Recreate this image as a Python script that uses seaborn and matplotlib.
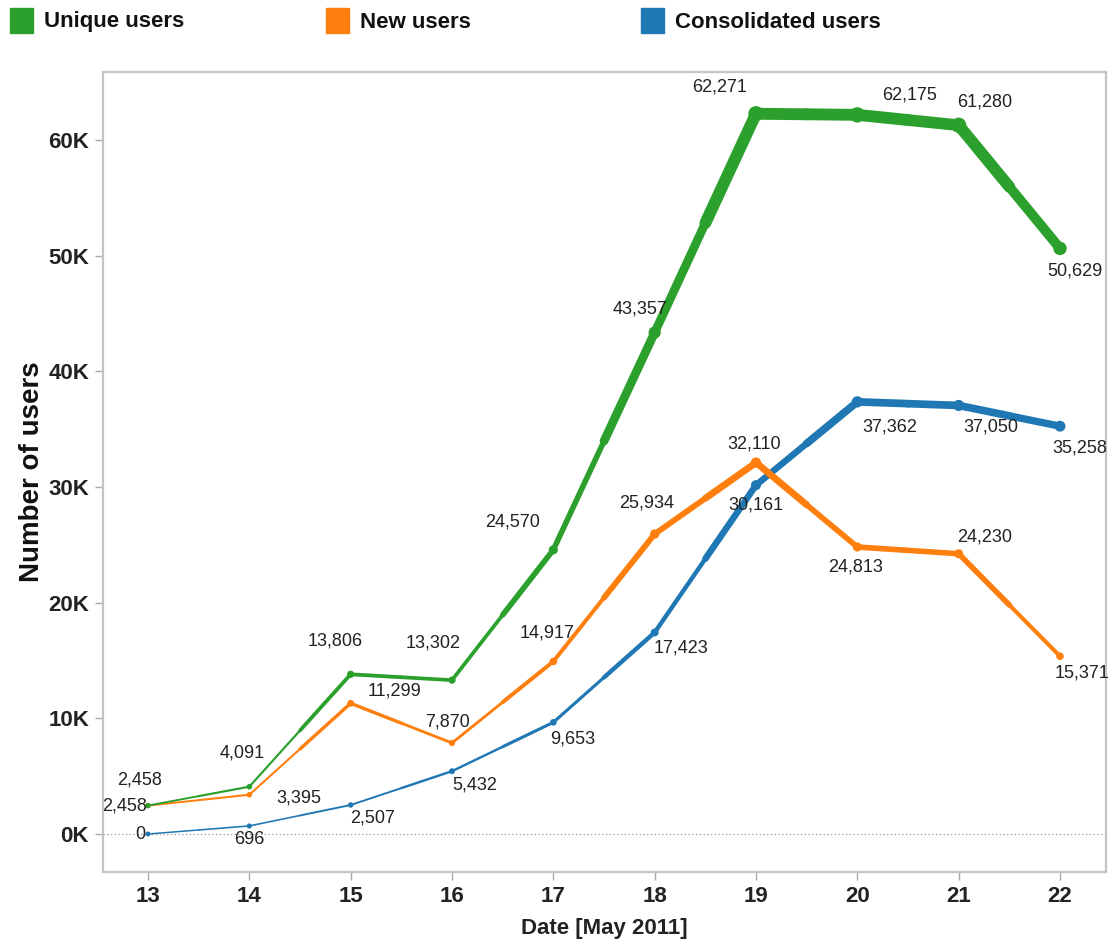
import numpy as np
import matplotlib
matplotlib.use("Agg")
import matplotlib.pyplot as plt
import matplotlib.patches as mpatches
import seaborn as sns

# data (May 2011)
days = [13, 14, 15, 16, 17, 18, 19, 20, 21, 22]
unique_users = [2458, 4091, 13806, 13302, 24570, 43357, 62271, 62175, 61280, 50629]
new_users = [2458, 3395, 11299, 7870, 14917, 25934, 32110, 24813, 24230, 15371]
consolidated_users = [0, 696, 2507, 5432, 9653, 17423, 30161, 37362, 37050, 35258]
series_names = ["Unique users", "New users", "Consolidated users"]
y_ticks = [0, 10000, 20000, 30000, 40000, 50000, 60000]

colors = ["#2ca02c", "#ff7f0e", "#1f77b4"]

# label offsets (pixels, dx right / dy up) and alignment per point
label_offsets = [
    [(-8, 26), (-7, 34), (-15, 33), (-19, 37), (-41, 28), (-15, 24), (-36, 27), (52, 20), (26, 23), (15, -23)],
    [(-1, 0, "right"), (50, -3), (44, 12), (-4, 21), (-6, 28), (-8, 31), (-2, 19), (-2, -20), (26, 17), (22, -17)],
    [(-3, 0, "right"), (0, -14), (22, -13), (23, -14), (19, -17), (26, -16), (0, -20), (32, -25), (32, -22), (20, -22)],
]

sns.set_style("white")
plt.rcParams["font.family"] = ["Liberation Sans", "DejaVu Sans"]

fig = plt.figure(figsize=(11.11, 9.44), dpi=100)
ax = fig.add_axes([103 / 1111, 72 / 944, 1003 / 1111, 800 / 944])

PX = 72 / 100  # points per pixel


def width_px(v):
    return 1.5 + v / 6000.0


all_series = [unique_users, new_users, consolidated_users]
x = np.array(days, dtype=float)

# draw bottom to top: consolidated, new, unique
for k in [2, 1, 0]:
    vals = np.array(all_series[k], dtype=float)
    col = colors[k]
    n = len(x)
    for i in range(n):
        xs, ys = [], []
        if i > 0:
            xs.append((x[i - 1] + x[i]) / 2)
            ys.append((vals[i - 1] + vals[i]) / 2)
        xs.append(x[i])
        ys.append(vals[i])
        if i < n - 1:
            xs.append((x[i] + x[i + 1]) / 2)
            ys.append((vals[i] + vals[i + 1]) / 2)
        ax.plot(xs, ys, color=col, lw=width_px(vals[i]) * PX,
                solid_capstyle="round", solid_joinstyle="round", zorder=2 + (2 - k))
    sizes = [((width_px(v) + 3.5) * PX) ** 2 for v in vals]
    sns.scatterplot(x=x, y=vals, s=sizes, color=col, edgecolor="none", ax=ax,
                    zorder=3 + (2 - k), legend=False)

# value labels
for k in range(3):
    for i, v in enumerate(all_series[k]):
        off = label_offsets[k][i]
        ha = off[2] if len(off) > 2 else "center"
        ax.annotate(f"{v:,}", (days[i], v), xytext=(off[0] * PX, off[1] * PX),
                    textcoords="offset points", ha=ha, va="center",
                    fontsize=13, color="#222222", zorder=10)

ax.axhline(0, color="#999999", ls=(0, (1, 2)), lw=0.9, zorder=1)

ax.set_xlim(12.556, 22.454)
ax.set_ylim(-3285, 65880)
ax.set_xticks(days)
ax.set_xticklabels([str(d) for d in days])
ax.set_yticks(y_ticks)
ax.set_yticklabels([f"{t // 1000}K" for t in y_ticks])
for lab in ax.get_xticklabels() + ax.get_yticklabels():
    lab.set_fontweight("bold")
    lab.set_fontsize(16)
    lab.set_color("#222222")
ax.tick_params(axis="both", which="major", direction="out", length=6, width=1,
               color="#aaaaaa", bottom=True, left=True, pad=4)

for s in ax.spines.values():
    s.set_color("#c4c4c4")
    s.set_linewidth(1.6)

ax.set_xlabel("Date [May 2011]", fontsize=16, fontweight="bold", color="#222222", labelpad=8)
ax.set_ylabel("Number of users", fontsize=20, fontweight="bold", color="#111111", labelpad=2)

# legend across the top
leg_x = [10, 326, 641]
for k, name in enumerate(series_names):
    fig.patches.append(mpatches.Rectangle((leg_x[k] / 1111, 1 - 33 / 944), 23 / 1111, 25 / 944,
                                          transform=fig.transFigure, color=colors[k]))
    fig.text((leg_x[k] + 34) / 1111, 1 - 22 / 944, name, fontsize=16, fontweight="bold",
             va="center", ha="left", color="#111111")

fig.savefig("out.png", dpi=100)
